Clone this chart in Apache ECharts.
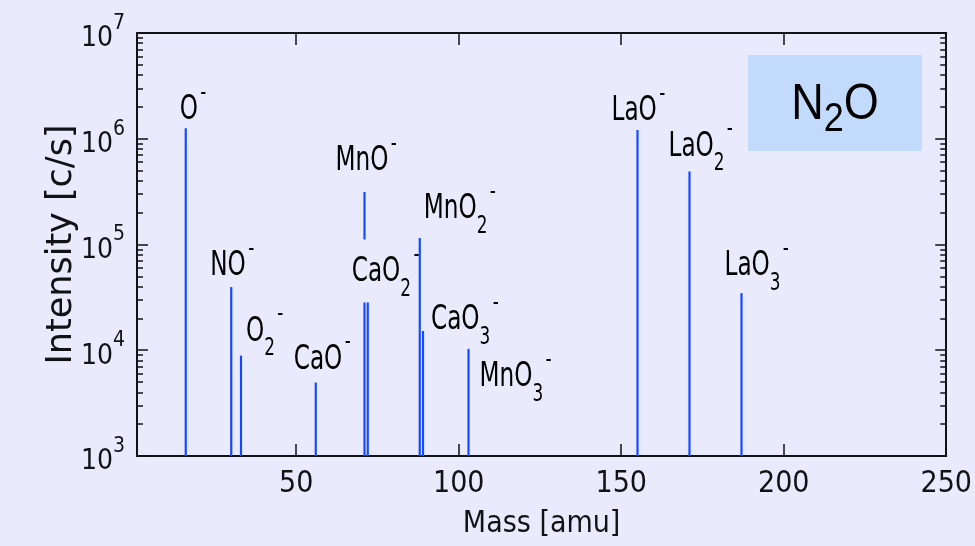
<!DOCTYPE html>
<html><head><meta charset="utf-8">
<script src="https://cdn.jsdelivr.net/npm/echarts@6/dist/echarts.min.js"></script>
<style>html,body{margin:0;padding:0;background:#e9ebfd}#c{width:975px;height:546px}</style>
</head><body><div id="c"></div>
<script>
// ---- data ----
const labelBase = ['O','NO','O','CaO','MnO','CaO','MnO','CaO','MnO','LaO','LaO','LaO'];
const labelSub  = ['', '', '2','',   '',   '2',  '2',  '3',  '3',  '',   '2',  '3'];
const labelCharge = '-';
const masses = [16, 30, 33, 56, 71, 72, 88, 89, 103, 155, 171, 187];
const intensities = [1.26e6, 3.96e4, 8.9e3, 4.95e3, 3.14e5, 2.98e4, 1.15e5, 1.52e4, 1.03e4, 1.21e6, 4.89e5, 3.47e4];
const xTickValues = [50, 100, 150, 200, 250];
const yMajorTicks = [1e3, 1e4, 1e5, 1e6, 1e7];
const yMinorMultipliers = [2, 3, 4, 5, 6, 7, 8, 9];
const gasLabel = ['N', '2', 'O'];

// ---- layout / style (kept apart from data) ----
const labelOffsets = [[-6,-19],[-21,-22],[5,-25],[-22,-24],[-29,-32],[-16,-29],[4,-30],[8,-12],[11,27],[-26,-20],[-21,-26],[-17,-28]];
const MASKED_LABELS = [5];   // label drawn with a background that hides the line behind it
const BG = '#e9ebfd';
const INK = '#111116';
const PEAK = '#1548ff';
const COND = "'DejaVu Sans Condensed','DejaVu Sans',sans-serif";
const X_MIN = 1, X_MAX = 250;
const Y_MIN = yMajorTicks[0], Y_MAX = yMajorTicks[yMajorTicks.length - 1];

const yMinorTicks = [];
yMajorTicks.slice(0, -1).forEach(d => yMinorMultipliers.forEach(m => yMinorTicks.push(d * m)));

const labelRich = {
  m:   {fontFamily: COND, fontSize: 33, lineHeight: 58, color: INK},
  sub: {fontFamily: COND, fontSize: 24, lineHeight: 24, verticalAlign: 'bottom', color: INK},
  sup: {fontFamily: COND, fontSize: 24, lineHeight: 24, verticalAlign: 'top', color: INK, padding: [0,0,0,3]}
};
function labelText(i) {
  return '{m|' + labelBase[i] + '}' + (labelSub[i] ? '{sub|' + labelSub[i] + '}' : '') + '{sup|' + labelCharge + '}';
}

const axisLineStyle = {show: true, lineStyle: {color: INK, width: 2}};
function xAxisCfg(pos, labels) {
  return {
    type: 'value', position: pos, min: X_MIN, max: X_MAX,
    axisLine: Object.assign({onZero: false}, axisLineStyle),
    axisTick: {show: true, inside: true, length: 12, customValues: xTickValues, lineStyle: {color: INK, width: 1.5}},
    axisLabel: labels ? {show: true, customValues: xTickValues, fontFamily: COND, fontSize: 30, color: INK, margin: 13} : {show: false},
    splitLine: {show: false},
    name: labels ? 'Mass [amu]' : '', nameLocation: 'middle', nameGap: 53, nameMoveOverlap: false,
    nameTextStyle: {fontFamily: COND, fontSize: 30, color: INK}
  };
}
function yAxisCfg(pos, major, labels) {
  return {
    type: 'log', logBase: 10, position: pos, min: Y_MIN, max: Y_MAX,
    axisLine: major ? axisLineStyle : {show: false},
    axisTick: {show: true, inside: true, length: major ? 11 : 6, customValues: major ? yMajorTicks : yMinorTicks, lineStyle: {color: INK, width: 1.5}},
    axisLabel: labels ? {
      show: true, customValues: yMajorTicks, margin: 12,
      formatter: v => '{b|10}{s|' + Math.round(Math.log10(v)) + '}',
      rich: {
        b: {fontFamily: COND, fontSize: 28, lineHeight: 40, verticalAlign: 'bottom', color: INK},
        s: {fontFamily: COND, fontSize: 21, lineHeight: 26, verticalAlign: 'top', color: INK}
      }
    } : {show: false},
    splitLine: {show: false},
    name: labels ? 'Intensity [c/s]' : '', nameLocation: 'middle', nameGap: 58, nameRotate: 90, nameMoveOverlap: false,
    nameTextStyle: {fontFamily: "'DejaVu Sans',sans-serif", fontSize: 35, color: INK}
  };
}

const chart = echarts.init(document.getElementById('c'), null, {renderer: 'canvas'});
chart.setOption({
  backgroundColor: BG,
  animation: false,
  grid: {left: 137, top: 33, right: 27, bottom: 90, containLabel: false},
  xAxis: [xAxisCfg('bottom', true), xAxisCfg('top', false)],
  yAxis: [yAxisCfg('left', true, true), yAxisCfg('left', false, false), yAxisCfg('right', true, false), yAxisCfg('right', false, false)],
  graphic: [
    {type: 'rect', left: 748, top: 55, z: 10, shape: {width: 174, height: 96}, style: {fill: '#c2dafb'}},
    {type: 'text', x: 835, y: 105, scaleX: 0.9, z: 11, style: {
      text: '{n|' + gasLabel[0] + '}{s|' + gasLabel[1] + '}{n|' + gasLabel[2] + '}',
      align: 'center', verticalAlign: 'middle',
      rich: {
        n: {fontFamily: "'Liberation Sans',Arial,sans-serif", fontSize: 50, lineHeight: 70, color: '#0a0a14'},
        s: {fontFamily: "'Liberation Sans',Arial,sans-serif", fontSize: 40, lineHeight: 40, verticalAlign: 'bottom', color: '#0a0a14'}
      }
    }}
  ],
  series: [{
    type: 'custom',
    xAxisIndex: 0, yAxisIndex: 0,
    data: masses.map((m, i) => [m, intensities[i]]),
    renderItem: function (params, api) {
      const i = params.dataIndex;
      const x = api.value(0), v = api.value(1);
      const base = api.coord([x, Y_MIN]);
      const top = api.coord([x, v]);
      const off = labelOffsets[i];
      const masked = MASKED_LABELS.indexOf(i) >= 0;
      return {
        type: 'group',
        children: [
          {type: 'line', shape: {x1: base[0], y1: base[1], x2: top[0], y2: top[1]}, style: {stroke: PEAK, lineWidth: 2.2}},
          {type: 'text', x: top[0] + off[0], y: top[1] + off[1], scaleX: 0.78, style: {
            text: labelText(i), rich: labelRich, align: 'left', verticalAlign: 'middle',
            backgroundColor: masked ? BG : null, padding: [4, 0, 1, 0]
          }}
        ]
      };
    }
  }]
});
</script></body></html>
